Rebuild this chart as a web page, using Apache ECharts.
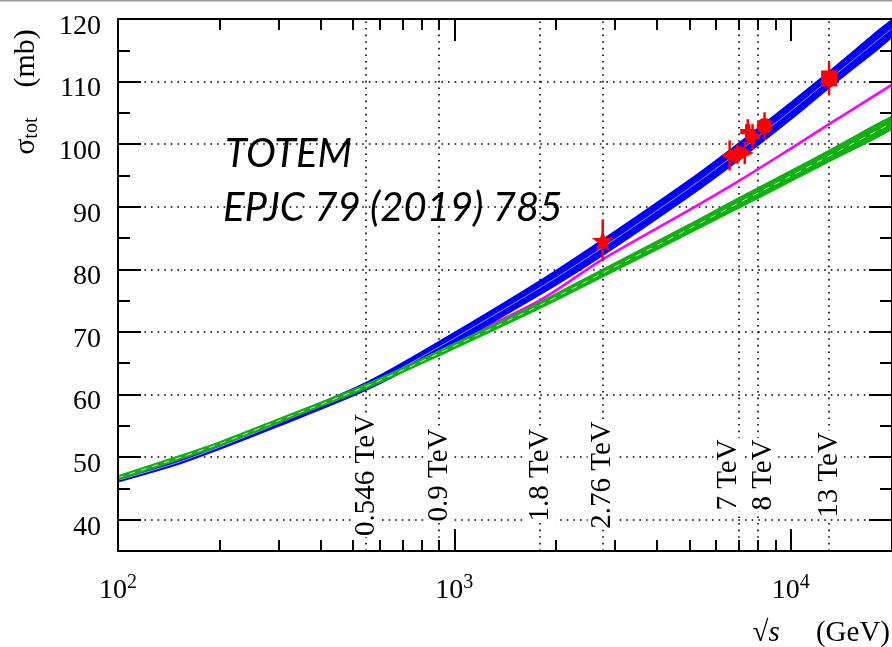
<!DOCTYPE html>
<html><head><meta charset="utf-8">
<script src="https://cdn.jsdelivr.net/npm/echarts@6/dist/echarts.min.js"></script>
<style>html,body{margin:0;padding:0;background:#fff}#c{width:892px;height:647px}</style>
</head><body><div id="c"></div>
<script>
// ---- data ----
const energies   = [100, 150, 200, 300, 546, 900, 1800, 2760, 5000, 7000, 10000, 13000, 20000];
const blueUpper  = [46.55, 49.4, 51.95, 55.85, 61.9, 68.45, 78.2, 84.75, 94.3, 100.15, 106.65, 111.6, 119.9];
const blueMid    = [46.3, 49.1, 51.6, 55.4, 61.3, 67.6, 77.1, 83.5, 93.0, 98.8, 105.3, 110.3, 118.5];
const blueLower  = [46.05, 48.8, 51.25, 54.95, 60.7, 66.75, 76.0, 82.25, 91.7, 97.45, 103.95, 109.0, 117.1];
const greenUpper = [47.0, 50.1, 52.4, 56.1, 61.65, 67.0, 74.8, 80.0, 87.2, 91.4, 95.75, 99.0, 104.45];
const greenMid   = [46.7, 49.8, 52.1, 55.8, 61.3, 66.6, 74.3, 79.4, 86.5, 90.6, 94.9, 98.1, 103.4];
const greenLower = [46.4, 49.5, 51.8, 55.5, 60.95, 66.2, 73.8, 78.8, 85.8, 89.8, 94.05, 97.2, 102.35];
const magenta    = [46.4, 49.0, 51.6, 55.5, 61.3, 67.2, 75.1, 81.6, 89.5, 94.1, 99.3, 103.2, 109.5];

// TOTEM points: [sqrt(s) GeV, sigma_tot mb, error mb]
const starPts     = [[2760, 84.6, 3.3]];
const triLeftPts  = [[6580, 98.2, 2.4]];
const triRightPts = [[7300, 98.6, 1.8]];
const crossPts    = [[7450, 102.0, 2.0], [7700, 101.2, 2.0]];
const circlePts   = [[8360, 102.9, 2.2]];
const squarePts   = [[13000, 110.5, 2.6]];

const energyLines  = [546, 900, 1800, 2760, 7000, 8000, 13000];
const energyLabels = ['0.546 TeV', '0.9 TeV', '1.8 TeV', '2.76 TeV', '7 TeV', '8 TeV', '13 TeV'];
const energyLabelY = 47.15;

const yGridValues  = [40, 50, 60, 70, 80, 90, 100, 110];
const yMajorTicks  = [40, 50, 60, 70, 80, 90, 100, 110, 120];
const yMinorTicks  = [40, 45, 55, 65, 75, 85, 95, 105, 115];
const xMajorTicks  = [100, 1000, 10000];
const xMinorTicks  = [200, 300, 400, 500, 600, 700, 800, 900, 2000, 3000, 4000, 5000, 6000, 7000, 8000, 9000, 20000];
const xTickExponents = {100: '2', 1000: '3', 10000: '4'};

// ---- chart ----
const SERIF = 'Liberation Serif';
const BLUE = '#0000ff', GREEN = '#13b013', MAGENTA = '#ff00ff', RED = '#ff0000';
const chart = echarts.init(document.getElementById('c'), null, {renderer: 'canvas'});
const pairs = arr => energies.map((e, i) => [e, arr[i]]);

const X_MIN = 100, X_MAX = 20000, Y_MIN = 35, Y_MAX = 120;
function xAx(pos, ticks, len, line, labels) {
  return {
    type: 'log', logBase: 10, min: X_MIN, max: X_MAX, position: pos, z: 20,
    axisLine: {show: line, onZero: false, lineStyle: {color: '#000', width: 2}},
    axisTick: {show: true, inside: true, length: len, customValues: ticks, lineStyle: {color: '#000', width: 2}},
    axisLabel: labels ? {
      show: true, customValues: xMajorTicks, margin: 22, color: '#000',
      formatter: v => '{b|10}{s|' + (xTickExponents[Math.round(v)] || '') + '}',
      rich: {
        b: {fontFamily: SERIF, fontSize: 28, lineHeight: 36, color: '#000'},
        s: {fontFamily: SERIF, fontSize: 20, lineHeight: 18, verticalAlign: 'top', color: '#000'}
      }
    } : {show: false},
    splitLine: {show: false}, minorTick: {show: false}
  };
}
function yAx(pos, ticks, len, line, labels) {
  return {
    type: 'value', min: Y_MIN, max: Y_MAX, position: pos, z: 20,
    axisLine: {show: line, onZero: false, lineStyle: {color: '#000', width: 2}},
    axisTick: {show: true, inside: true, length: len, customValues: ticks, lineStyle: {color: '#000', width: 2}},
    axisLabel: labels ? {
      show: true, customValues: yMajorTicks, margin: 17, color: '#000',
      formatter: v => '{a|' + v + '}',
      rich: {a: {fontFamily: SERIF, fontSize: 28, color: '#000', padding: [15, 0, 0, 0]}}
    } : {show: false},
    splitLine: {show: false}, minorTick: {show: false}
  };
}

const dotted = {color: '#000', width: 1.6, type: [1.6, 5]};

function errRender(params, api) {
  const x = api.value(0), y = api.value(1), e = api.value(2);
  const p1 = api.coord([x, y - e]), p2 = api.coord([x, y + e]);
  return {type: 'line', shape: {x1: p1[0], y1: p1[1], x2: p2[0], y2: p2[1]},
          style: {stroke: RED, lineWidth: 2.5}};
}
function bandSeries(upper, lower, color, z) {
  return {
    type: 'custom', data: [[energies[0], lower[0]]], encode: {x: 0, y: 1}, z: z, silent: true,
    renderItem: (params, api) => {
      const pts = [];
      energies.forEach((e, i) => pts.push(api.coord([e, upper[i]])));
      for (let i = energies.length - 1; i >= 0; i--) pts.push(api.coord([energies[i], lower[i]]));
      const cs = params.coordSys;
      return {
        type: 'group',
        clipPath: {type: 'rect', shape: {x: cs.x, y: cs.y, width: cs.width, height: cs.height}},
        children: [{type: 'polygon', shape: {points: pts, smooth: 0.25}, style: {fill: color}}]
      };
    }
  };
}
const edge = (arr, color, width, z, type, op) => ({
  type: 'line', data: pairs(arr), smooth: 0.3, symbol: 'none', z: z, silent: true,
  lineStyle: {color: color, width: width, type: type || 'solid', opacity: op == null ? 1 : op}
});
const labelOffset = t => t === '7 TeV' ? -10 : t === '8 TeV' ? 5 : 0;
function labelRender(params, api) {
  const i = api.value(2);
  const p = api.coord([api.value(0), api.value(1)]);
  return {
    type: 'text', x: p[0] + labelOffset(energyLabels[i]), y: p[1], rotation: Math.PI / 2,
    style: {
      text: energyLabels[i], font: '29px "Liberation Serif"', fill: '#000',
      align: 'center', verticalAlign: 'middle', lineHeight: 30,
      backgroundColor: '#ffffff', padding: [0, 1]
    }
  };
}

const allPts = [].concat(starPts, triLeftPts, triRightPts, crossPts, circlePts, squarePts);
const STAR = 'path://M50,0 L61.8,35.4 L100,35.4 L69.1,57.3 L80.9,92.7 L50,70.8 L19.1,92.7 L30.9,57.3 L0,35.4 L38.2,35.4 Z';
const CROSS = 'path://M32,0 H68 V32 H100 V68 H68 V100 H32 V68 H0 V32 H32 Z';
const ptSeries = (data, symbol, size, rot) => ({
  type: 'scatter', data: data.map(p => [p[0], p[1]]), symbol: symbol, symbolSize: size,
  symbolRotate: rot || 0, itemStyle: {color: RED, opacity: 1}, z: 10, silent: true
});

const option = {
  animation: false,
  backgroundColor: '#fff',
  grid: {left: 118, top: 19, width: 777, height: 532, containLabel: false},
  xAxis: [
    xAx('bottom', xMajorTicks, 22, true, true),
    xAx('bottom', xMinorTicks, 11, false, false),
    xAx('top', xMajorTicks, 22, true, false),
    xAx('top', xMinorTicks, 11, false, false)
  ],
  yAxis: [
    yAx('left', yMajorTicks, 23, true, true),
    yAx('left', yMinorTicks, 12, false, false),
    yAx('right', yMajorTicks, 23, true, false),
    yAx('right', yMinorTicks, 12, false, false)
  ],
  series: [
    {
      name: 'grid', type: 'line', data: [], z: 1, silent: true,
      markLine: {
        silent: true, z: 1, symbol: ['none', 'none'], label: {show: false}, lineStyle: dotted,
        data: yGridValues.map(v => ({yAxis: v})).concat(energyLines.map(v => ({xAxis: v})))
      }
    },
    {
      name: 'energyLabels', type: 'custom', renderItem: labelRender, z: 2, silent: true,
      data: energyLines.map((e, i) => [e, energyLabelY, i]), encode: {x: 0, y: 1}
    },
    edge(magenta, MAGENTA, 2.6, 3),
    bandSeries(blueUpper, blueLower, BLUE, 4),
    edge(blueUpper, BLUE, 1.5, 4),
    edge(blueLower, BLUE, 1.5, 4),
    edge(blueMid, '#ffffff', 0.8, 4, 'solid', 0.75),
    bandSeries(greenUpper, greenLower, GREEN, 5),
    edge(greenUpper, GREEN, 1.5, 5),
    edge(greenLower, GREEN, 1.5, 5),
    edge(greenMid, '#ffffff', 0.8, 5, [6, 6], 0.85),
    {type: 'custom', renderItem: errRender, data: allPts, encode: {x: 0, y: 1}, z: 9, silent: true},
    ptSeries(starPts, STAR, 22),
    ptSeries(triLeftPts, 'triangle', 18, 90),
    ptSeries(triRightPts, 'triangle', 18, -90),
    ptSeries(crossPts, CROSS, 15),
    ptSeries(circlePts, 'circle', 16),
    ptSeries(squarePts, 'rect', 16)
  ],
  graphic: [
    {type: 'rect', left: 0, top: 0, z: 50, shape: {width: 892, height: 1.5}, style: {fill: '#9a9a9a'}, silent: true},
    {type: 'text', x: 26, y: 92, rotation: Math.PI / 2, z: 50, silent: true,
     style: {text: '{g|σ}{u|tot}{n|    (mb)}', align: 'center', verticalAlign: 'middle',
       rich: {
         g: {fontFamily: SERIF, fontSize: 30, lineHeight: 32, fill: '#000'},
         u: {fontFamily: SERIF, fontSize: 20, lineHeight: 20, verticalAlign: 'bottom', fill: '#000'},
         n: {fontFamily: SERIF, fontSize: 30, lineHeight: 32, fill: '#000'}
       }}},
    {type: 'text', x: 890, y: 633, z: 50, silent: true,
     style: {text: '{r|√}{i|s}{n|     (GeV)}', align: 'right', verticalAlign: 'middle',
       rich: {
         r: {fontFamily: SERIF, fontSize: 29, fill: '#000'},
         i: {fontFamily: SERIF, fontSize: 29, fontStyle: 'italic', fill: '#000'},
         n: {fontFamily: SERIF, fontSize: 29, fill: '#000'}
       }}},
    {type: 'text', x: 225, y: 154, z: 50, silent: true,
     style: {text: 'TOTEM', fontFamily: 'Lato', fontStyle: 'italic', fontSize: 40, fill: '#000', verticalAlign: 'middle'}},
    {type: 'text', x: 223, y: 208, z: 50, silent: true,
     style: {text: 'EPJC 79 (2019) 785', fontFamily: 'Lato', fontStyle: 'italic', fontSize: 40, fill: '#000', verticalAlign: 'middle'}}
  ]
};
chart.setOption(option);
</script>
</body></html>
